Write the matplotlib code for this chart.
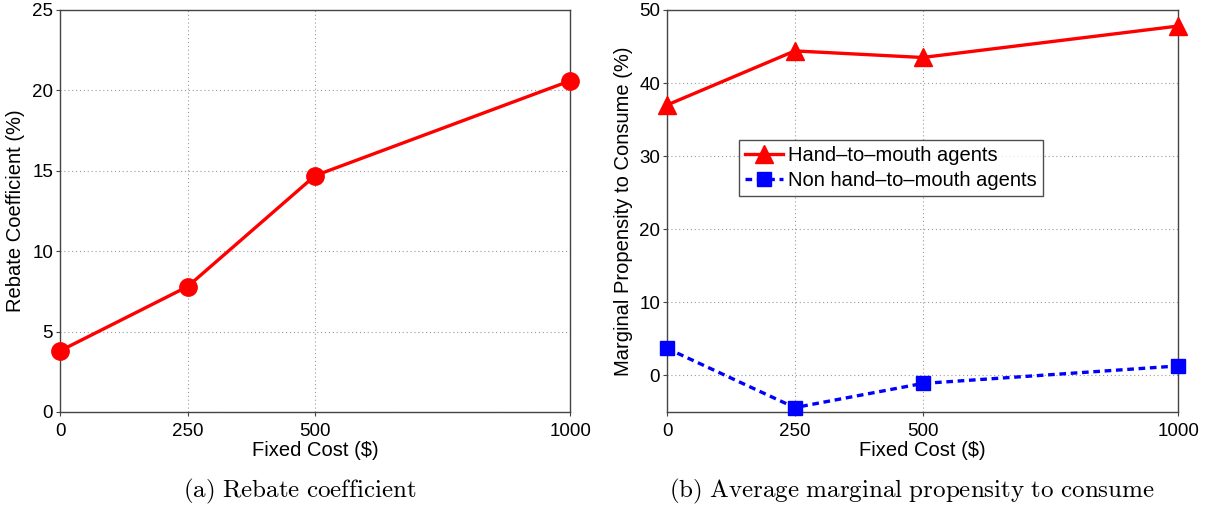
import matplotlib
matplotlib.use("Agg")
import matplotlib.pyplot as plt

plt.rcParams['font.family'] = ['Liberation Sans', 'DejaVu Sans']
plt.rcParams['mathtext.fontset'] = 'cm'

fixed_cost = [0, 250, 500, 1000]
rebate_coef = [3.8, 7.8, 14.7, 20.6]
mpc_htm = [37.0, 44.4, 43.5, 47.8]
mpc_non_htm = [3.7, -4.4, -1.1, 1.3]

x_ticks = [0, 250, 500, 1000]

LABEL_FS = 14.5
TICK_FS = 13.5

fig = plt.figure(figsize=(12.15, 5.09), dpi=100)
ax1 = fig.add_axes([0.0494, 0.1906, 0.4200, 0.7898])
ax2 = fig.add_axes([0.5490, 0.1906, 0.4206, 0.7898])


def style(ax):
    ax.set_xlim(0, 1000)
    ax.set_xticks(x_ticks)
    ax.grid(True, linestyle=(0, (1, 2.5)), color='#999999', linewidth=0.8)
    ax.tick_params(direction='out', labelsize=TICK_FS,
                   length=3, width=0.8, pad=2, color='#444444')
    ax.tick_params(axis='x', pad=5)
    for s in ax.spines.values():
        s.set_linewidth(1.0)
        s.set_color('#444444')
    ax.set_xlabel('Fixed Cost ($)', fontsize=LABEL_FS, labelpad=1)


ax1.plot(fixed_cost, rebate_coef, color='#ff0000', linewidth=2.4,
         marker='o', markersize=12.5, clip_on=False, zorder=5)
ax1.set_ylim(0, 25)
ax1.set_yticks([0, 5, 10, 15, 20, 25])
style(ax1)
ax1.set_ylabel('Rebate Coefficient (%)', fontsize=LABEL_FS)
ax1.yaxis.set_label_coords(-0.068, 0.5)

ax2.plot(fixed_cost, mpc_htm, color='#ff0000', linewidth=2.4,
         marker='^', markersize=13.5, clip_on=False, zorder=5,
         label='Hand\u2013to\u2013mouth agents')
ax2.plot(fixed_cost, mpc_non_htm, color='#0000ff', linewidth=2.4,
         linestyle=(0, (2.0, 1.4)), marker='s', markersize=10,
         clip_on=False, zorder=5,
         label='Non hand\u2013to\u2013mouth agents')
ax2.set_ylim(-5, 50)
ax2.set_yticks([0, 10, 20, 30, 40, 50])
style(ax2)
ax2.set_ylabel('Marginal Propensity to Consume (%)', fontsize=LABEL_FS)
ax2.yaxis.set_label_coords(-0.066, 0.5)

leg = ax2.legend(loc='upper left', bbox_to_anchor=(0.141, 0.677),
                 borderaxespad=0, fontsize=LABEL_FS, frameon=True, fancybox=False,
                 handlelength=1.9, handletextpad=0.25, borderpad=0.3,
                 labelspacing=0.3)
leg.get_frame().set_edgecolor('#222222')
leg.get_frame().set_linewidth(1.0)

fig.text(0.247, 0.034, r'$\mathrm{(a)\ Rebate\ coefficient}$',
         ha='center', va='center', fontsize=18)
fig.text(0.7506, 0.034, r'$\mathrm{(b)\ Average\ marginal\ propensity\ to\ consume}$',
         ha='center', va='center', fontsize=18)

fig.savefig('out.png', dpi=100)
